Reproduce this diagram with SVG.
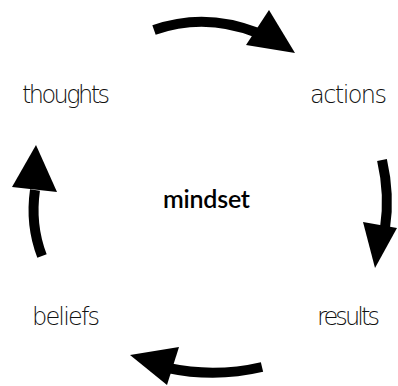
<svg xmlns="http://www.w3.org/2000/svg" width="398" height="386" viewBox="0 0 398 386">
<style>
.lbl{font-family:"DejaVu Sans","Liberation Sans",sans-serif;font-size:24px;font-weight:200;fill:#111}
.ctr{font-family:"Lato","Liberation Sans",sans-serif;font-size:25px;font-weight:600;fill:#000}
.arc{fill:none;stroke:#000;stroke-width:10}
.head{fill:#000}
</style>
<rect width="398" height="386" fill="#fff"/>
<g id="connectors">
<path class="arc" d="M154,30 Q205,12 258,33"/>
<polygon class="head" points="269,10 295,53 246,45"/>
<path class="arc" d="M382,160 Q390,195 385,228"/>
<polygon class="head" points="363,222 397,228 375,268"/>
<path class="arc" d="M262,367 Q215,378 168,368"/>
<polygon class="head" points="130,355 179,347 167,385"/>
<path class="arc" d="M42,256 Q30,225 35,190"/>
<polygon class="head" points="36,145 12,187 57,192"/>
</g>
<g id="thoughts"><text class="lbl" x="22" y="103" textLength="88">thoughts</text></g>
<g id="actions"><text class="lbl" x="310" y="103" textLength="77">actions</text></g>
<g id="results"><text class="lbl" x="317" y="325" textLength="63">results</text></g>
<g id="beliefs"><text class="lbl" x="32" y="325" textLength="68">beliefs</text></g>
<g id="mindset"><text class="ctr" x="163" y="208" textLength="87">mindset</text></g>
</svg>
